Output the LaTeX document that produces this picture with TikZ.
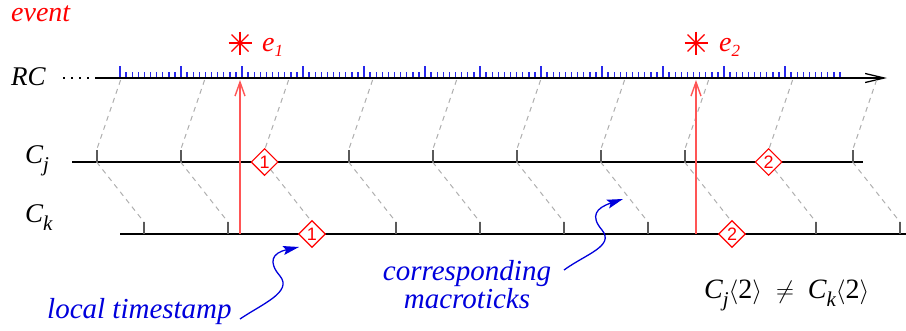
\documentclass[tikz,border=0pt]{standalone}
\usepackage{fontspec}
\setmainfont{Liberation Serif}
\newfontfamily\dmdfont{Liberation Sans}
\usetikzlibrary{shapes.geometric,arrows.meta,calc}
\definecolor{evred}{RGB}{255,0,0}
\definecolor{lred}{RGB}{255,85,85}
\definecolor{tblue}{RGB}{0,0,220}
\definecolor{tickblue}{RGB}{40,40,235}
\definecolor{dgray}{RGB}{90,90,90}
\definecolor{lgray}{RGB}{175,175,175}
\newcommand{\mysubs}[1]{\raisebox{-8pt}{\fontsize{21}{22}\selectfont #1}}
\newcommand{\mysube}[1]{\raisebox{-5pt}{\fontsize{17}{18}\selectfont #1}}
\begin{document}
\begin{tikzpicture}[x=1pt,y=-1pt,
  bigtext/.style={font=\fontsize{27}{30}\selectfont\itshape, inner sep=0, anchor=base west},
  bluetext/.style={font=\fontsize{29}{25}\selectfont\itshape, inner sep=0, text=tblue},
  axisline/.style={line width=1.4pt, black},
  rctick/.style={line width=1.4pt, tickblue},
  ctick/.style={line width=1.8pt, dgray},
  dsh/.style={lgray, line width=1pt, dash pattern=on 5pt off 4.5pt},
  dmd/.style={diamond, draw=evred, fill=white, line width=1.2pt, aspect=1,
     minimum width=27pt, minimum height=27pt, inner sep=0,
     text=evred, font=\dmdfont\fontsize{18}{18}\selectfont},
  evarrow/.style={lred, line width=1.6pt, -{Straight Barb[length=14pt,width=10pt,line width=1.4pt]}},
  bluearrow/.style={tblue, line width=1.3pt, -{Stealth[length=16pt,width=9pt,inset=3pt]}},
  star/.style={evred, line width=1.2pt}
]
\useasboundingbox (0,0) rectangle (906,330);

% labels
\node[bigtext, text=evred, font=\fontsize{28}{30}\selectfont\itshape] (event) at (11,21) {event};
\node[bigtext] (rc) at (11,85) {RC};
\node[bigtext] (cj) at (25,163) {C\mysubs{j}};
\node[bigtext] (ck) at (25,222) {C\mysubs{k}};

% RC axis
\coordinate (rcdots) at (63,78);
\coordinate (rcstart) at (96,78);
\coordinate (rcend) at (887,78);
\draw[line width=1.4pt, dash pattern=on 1.5pt off 6.5pt] (rcdots) -- (rcstart);
\draw[axisline, -{Straight Barb[length=19pt,width=9pt,line width=1.3pt]}] (rcstart) -- (rcend);

% RC microticks
\foreach \k in {0,...,50} \draw[rctick] ({120+6.1*\k},77) -- ++(0,-5);
\foreach \k in {1,...,8} \draw[rctick] ({425+6.1*\k},77) -- ++(0,-5);
\foreach \k in {0,...,59} \draw[rctick] ({480+6.1*\k},77) -- ++(0,-5);
\foreach \x in {120,181,242,303,364,425,480,541,602,663,724,785}
  \draw[rctick] (\x,77) -- (\x,66);

% Cj and Ck axes
\coordinate (cjstart) at (72,162);
\coordinate (cjend) at (863,162);
\coordinate (ckstart) at (120,234);
\coordinate (ckend) at (906,234);
\draw[axisline] (cjstart) -- (cjend);
\draw[axisline] (ckstart) -- (ckend);

\foreach \i in {0,...,9} {
  \coordinate (rc\i) at ({120.6+84*\i},80);
  \coordinate (cj\i) at ({96.6+84*\i},162);
  \coordinate (cjt\i) at ({96.6+84*\i},150);
  \coordinate (ck\i) at ({144+84*\i},234);
  \coordinate (ckt\i) at ({144+84*\i},222);
  \draw[dsh] (rc\i) -- (cjt\i);
  \draw[dsh] (cj\i) -- (ckt\i);
  \draw[ctick] (cj\i) -- (cjt\i);
  \draw[ctick] (ck\i) -- (ckt\i);
}

% events
\coordinate (ev1b) at (240,234);
\coordinate (ev1t) at (240,80);
\coordinate (ev2b) at (696,234);
\coordinate (ev2t) at (696,80);
\draw[evarrow] (ev1b) -- (ev1t);
\draw[evarrow] (ev2b) -- (ev2t);

\coordinate (st1) at (240,43);
\coordinate (st2) at (696,43);
\foreach \s in {st1,st2} {
  \draw[star] ($(\s)+(-11.5,0)$) -- ($(\s)+(11.5,0)$);
  \draw[star] ($(\s)+(0,-11.5)$) -- ($(\s)+(0,11.5)$);
  \draw[star] ($(\s)+(-8.5,-8.5)$) -- ($(\s)+(8.5,8.5)$);
  \draw[star] ($(\s)+(-8.5,8.5)$) -- ($(\s)+(8.5,-8.5)$);
}
\node[bigtext, text=evred, font=\fontsize{28}{30}\selectfont\itshape] (e1) at (262,51) {e\mysube{1}};
\node[bigtext, text=evred, font=\fontsize{28}{30}\selectfont\itshape] (e2) at (719,51) {e\mysube{2}};

% timestamps
\node[dmd] (d1j) at (cj2) {1};
\node[dmd] (d2j) at (cj8) {2};
\node[dmd] (d1k) at (ck2) {1};
\node[dmd] (d2k) at (ck7) {2};

% annotations
\node[bluetext, anchor=base west] (lts) at (47,318) {local timestamp};
\node[bluetext, align=center, anchor=center] (corr) at (467,284.5) {corresponding\\macroticks};

\coordinate (b1s) at (240,319);
\coordinate (b1e) at (299,247);
\draw[bluearrow] (b1s) .. controls (262,304) and (293,292) .. (280,276)
   .. controls (268,262) and (272,253) .. (b1e);
\coordinate (b2s) at (564,270);
\coordinate (b2e) at (623,199);
\draw[bluearrow] (b2s) .. controls (586,254) and (615,246) .. (602,230)
   .. controls (590,216) and (596,208) .. (b2e);

\node[bigtext, font=\fontsize{28}{30}\selectfont\itshape] (neq) at (704,298) {C\mysubs{j}\upshape$\langle$2$\rangle$\ \ $\neq$\ \ \itshape C\mysubs{k}\upshape$\langle$2$\rangle$};
\end{tikzpicture}
\end{document}
